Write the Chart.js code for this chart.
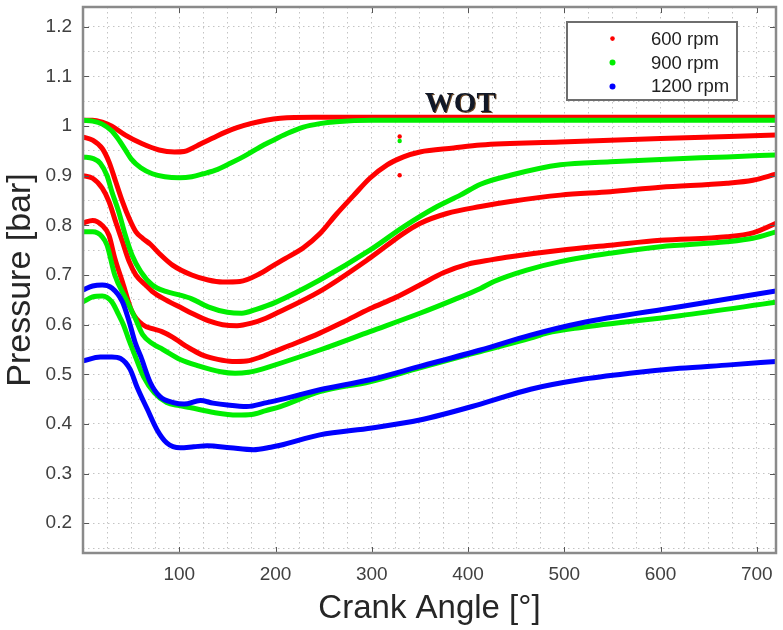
<!DOCTYPE html>
<html>
<head>
<meta charset="utf-8">
<title>Pressure vs Crank Angle</title>
<script src="https://cdn.jsdelivr.net/npm/chart.js@4.4.1/dist/chart.umd.min.js"></script>
<style>
  html, body { margin: 0; padding: 0; background: #fff; }
  #wrap { width: 783px; height: 630px; position: relative; }
</style>
</head>
<body>
<div id="wrap"><canvas id="pressureChart"></canvas></div>
<script>
// tick labels
const xTickLabels = [100, 200, 300, 400, 500, 600, 700];
const yTickLabels = [0.2, 0.3, 0.4, 0.5, 0.6, 0.7, 0.8, 0.9, 1, 1.1, 1.2];

// series: [crank angle (deg), pressure (bar)]
const rpm600_a = [[0,1.012],[10,1.012],[20,1.008],[30,1.0],[44,0.982],[61,0.965],[79,0.952],[95,0.948],[105,0.949],[113,0.955],[122,0.964],[135,0.976],[148,0.988],[160,0.997],[174,1.005],[190,1.012],[205,1.016],[240,1.018],[300,1.018],[400,1.018],[500,1.018],[600,1.018],[720,1.018]];
const rpm600_b = [[0,0.978],[10,0.972],[20,0.955],[27,0.928],[34,0.888],[41,0.848],[48,0.814],[55,0.787],[62,0.774],[70,0.762],[80,0.742],[93,0.72],[113,0.70],[130,0.69],[145,0.686],[163,0.687],[184,0.703],[195,0.716],[210,0.733],[229,0.755],[246,0.783],[263,0.822],[281,0.86],[298,0.895],[316,0.922],[333,0.938],[350,0.948],[385,0.956],[413,0.962],[496,0.968],[600,0.975],[720,0.982]];
const rpm600_c = [[0,0.90],[10,0.895],[20,0.875],[27,0.848],[34,0.807],[41,0.767],[48,0.727],[55,0.70],[65,0.68],[72,0.667],[86,0.65],[103,0.633],[113,0.623],[130,0.608],[145,0.60],[160,0.598],[175,0.603],[190,0.613],[200,0.622],[246,0.667],[298,0.734],[333,0.784],[350,0.804],[378,0.824],[413,0.838],[444,0.848],[496,0.861],[548,0.868],[600,0.877],[669,0.885],[696,0.891],[720,0.903]];
const rpm600_d = [[0,0.805],[10,0.81],[20,0.80],[27,0.78],[33,0.734],[41,0.686],[51,0.626],[62,0.60],[72,0.592],[82,0.586],[93,0.575],[103,0.562],[113,0.55],[125,0.538],[140,0.53],[155,0.526],[170,0.527],[185,0.535],[195,0.543],[220,0.562],[246,0.583],[270,0.605],[298,0.632],[325,0.655],[350,0.68],[375,0.705],[400,0.722],[425,0.731],[444,0.737],[496,0.75],[548,0.76],[600,0.77],[669,0.777],[696,0.785],[720,0.804]];
const rpm600_odd = [[329,0.979],[329,0.901]];

const rpm900_a = [[0,1.012],[10,1.01],[20,1.004],[30,0.99],[38,0.97],[44,0.952],[50,0.934],[60,0.916],[72,0.904],[85,0.898],[100,0.896],[113,0.898],[125,0.904],[140,0.913],[153,0.925],[170,0.942],[184,0.958],[195,0.969],[212,0.985],[229,0.998],[246,1.005],[263,1.009],[300,1.012],[400,1.012],[500,1.012],[600,1.012],[720,1.012]];
const rpm900_b = [[0,0.938],[10,0.935],[18,0.925],[25,0.90],[30,0.868],[37,0.828],[44,0.78],[51,0.74],[60,0.707],[72,0.68],[86,0.667],[100,0.66],[113,0.652],[130,0.636],[150,0.625],[165,0.623],[180,0.631],[200,0.645],[246,0.69],[298,0.75],[333,0.797],[368,0.838],[392,0.861],[413,0.883],[444,0.901],[496,0.922],[548,0.928],[600,0.933],[669,0.938],[720,0.942]];
const rpm900_c = [[0,0.787],[10,0.787],[20,0.777],[25,0.76],[33,0.70],[44,0.654],[54,0.614],[62,0.58],[72,0.562],[83,0.55],[101,0.53],[120,0.517],[143,0.505],[158,0.502],[172,0.504],[185,0.51],[195,0.516],[246,0.549],[298,0.586],[350,0.623],[385,0.65],[413,0.673],[427,0.687],[461,0.71],[496,0.727],[548,0.744],[600,0.757],[669,0.767],[696,0.774],[720,0.787]];
const rpm900_d = [[0,0.646],[10,0.656],[20,0.658],[30,0.646],[37,0.62],[42,0.60],[47,0.573],[53,0.543],[63,0.495],[74,0.463],[87,0.443],[100,0.437],[111,0.433],[136,0.423],[160,0.418],[175,0.419],[190,0.427],[205,0.435],[246,0.465],[298,0.485],[350,0.513],[413,0.546],[465,0.573],[482,0.583],[516,0.594],[620,0.618],[720,0.645]];
const rpm900_odd = [[329,0.97]];

const rpm1200_a = [[0,0.67],[10,0.678],[20,0.68],[30,0.674],[41,0.646],[48,0.606],[54,0.565],[60,0.536],[70,0.483],[80,0.455],[94,0.443],[105,0.44],[122,0.447],[135,0.442],[150,0.438],[170,0.435],[191,0.443],[205,0.449],[246,0.469],[298,0.489],[350,0.516],[413,0.549],[465,0.579],[516,0.603],[620,0.636],[720,0.668]];
const rpm1200_b = [[0,0.527],[18,0.535],[30,0.535],[39,0.532],[49,0.51],[56,0.475],[67,0.429],[77,0.388],[87,0.362],[101,0.352],[115,0.354],[129,0.356],[153,0.352],[177,0.348],[195,0.353],[205,0.357],[246,0.378],[300,0.392],[350,0.408],[413,0.44],[465,0.47],[516,0.489],[568,0.502],[620,0.512],[672,0.519],[720,0.526]];

const legendLabels = ["600 rpm", "900 rpm", "1200 rpm"];
const colors = ["#ff0000", "#00ee00", "#0000ff"];
const wotLabel = { text: "WOT", x: 392, y: 1.029 };

function toPoints(arr) {
  return arr.map(p => ({ x: p[0], y: p[1] }));
}

function curve(arr, color) {
  return {
    data: toPoints(arr),
    showLine: true,
    borderColor: color,
    backgroundColor: color,
    borderWidth: 5,
    pointRadius: 0,
    tension: 0.3,
    cubicInterpolationMode: "monotone",
    borderCapStyle: "round",
    borderJoinStyle: "round"
  };
}

function dots(arr, color) {
  return {
    data: toPoints(arr),
    showLine: false,
    pointRadius: 2.2,
    pointBorderWidth: 0,
    backgroundColor: color,
    borderColor: color
  };
}

// first dataset is drawn on top: blue, then green, then red
const datasets = [
  curve(rpm1200_a, colors[2]), curve(rpm1200_b, colors[2]),
  curve(rpm900_a, colors[1]), curve(rpm900_b, colors[1]), curve(rpm900_c, colors[1]), curve(rpm900_d, colors[1]),
  dots(rpm900_odd, colors[1]),
  curve(rpm600_a, colors[0]), curve(rpm600_b, colors[0]), curve(rpm600_c, colors[0]), curve(rpm600_d, colors[0]),
  dots(rpm600_odd, colors[0])
];

const decorPlugin = {
  id: "decor",
  afterDatasetsDraw(chart) {
    const { ctx, chartArea: a, scales: { x, y } } = chart;
    ctx.save();

    // inward tick marks on all four sides
    ctx.strokeStyle = "#555";
    ctx.lineWidth = 1;
    ctx.beginPath();
    xTickLabels.forEach(v => {
      const px = Math.round(x.getPixelForValue(v)) + 0.5;
      ctx.moveTo(px, a.bottom); ctx.lineTo(px, a.bottom - 6);
      ctx.moveTo(px, a.top); ctx.lineTo(px, a.top + 6);
    });
    yTickLabels.forEach(v => {
      const py = Math.round(y.getPixelForValue(v)) + 0.5;
      ctx.moveTo(a.left, py); ctx.lineTo(a.left + 6, py);
      ctx.moveTo(a.right, py); ctx.lineTo(a.right - 6, py);
    });
    ctx.stroke();

    // axes box
    ctx.strokeStyle = "#8a8a8a";
    ctx.lineWidth = 2.5;
    ctx.strokeRect(a.left, a.top, a.right - a.left, a.bottom - a.top);

    // WOT annotation
    ctx.font = "bold 29px 'Liberation Serif', 'Times New Roman', serif";
    ctx.textAlign = "center";
    ctx.textBaseline = "alphabetic";
    ctx.fillStyle = "#6b4a2a";
    ctx.fillText(wotLabel.text, x.getPixelForValue(wotLabel.x) + 1, y.getPixelForValue(wotLabel.y) + 1);
    ctx.fillStyle = "#111827";
    ctx.fillText(wotLabel.text, x.getPixelForValue(wotLabel.x), y.getPixelForValue(wotLabel.y));

    // legend box, top right inside the axes
    const bw = 170, bh = 78;
    const bx = a.right - 39 - bw, by = a.top + 15;
    ctx.fillStyle = "#fff";
    ctx.fillRect(bx, by, bw, bh);
    ctx.strokeStyle = "#6e6e6e";
    ctx.lineWidth = 2;
    ctx.strokeRect(bx, by, bw, bh);
    ctx.font = "18.5px 'Liberation Sans', Arial, sans-serif";
    ctx.textAlign = "left";
    ctx.textBaseline = "middle";
    legendLabels.forEach((label, i) => {
      const ry = by + 16.6 + i * 23.9;
      ctx.fillStyle = colors[i];
      ctx.beginPath();
      ctx.arc(bx + 45.5, ry, i === 0 ? 2.3 : 3, 0, Math.PI * 2);
      ctx.fill();
      ctx.fillStyle = "#222";
      ctx.fillText(label, bx + 84, ry + 1);
    });
    ctx.restore();
  }
};

function gerarGrafico() {
  const ctx = document.getElementById("pressureChart").getContext("2d");
  new Chart(ctx, {
    type: "scatter",
    data: { datasets: datasets },
    plugins: [decorPlugin],
    options: {
      responsive: true,
      maintainAspectRatio: false,
      animation: false,
      events: [],
      layout: { padding: { left: 0, top: 7, right: 7, bottom: 0 } },
      plugins: {
        legend: { display: false },
        tooltip: { enabled: false }
      },
      scales: {
        x: {
          type: "linear",
          min: 0,
          max: 720,
          afterBuildTicks: scale => {
            const t = [];
            for (let v = 25; v < 720; v += 25) t.push({ value: v });
            scale.ticks = t;
          },
          afterFit: scale => {
            scale.height = 77;
            scale.paddingLeft = 0;
            scale.paddingRight = 0;
          },
          ticks: {
            autoSkip: false,
            maxRotation: 0,
            padding: 10,
            color: "#404040",
            font: { size: 19, family: "'Liberation Sans', Arial, sans-serif" },
            callback: v => xTickLabels.includes(v) ? String(v) : ""
          },
          grid: { color: "#c4c4c4", lineWidth: 1, drawTicks: false },
          border: { display: false, dash: [1.5, 3.5] },
          title: {
            display: true,
            text: "Crank Angle [°]",
            color: "#262626",
            padding: { top: 0, bottom: 1 },
            font: { size: 33, family: "'Liberation Sans', Arial, sans-serif" }
          }
        },
        y: {
          type: "linear",
          min: 0.14,
          max: 1.24,
          afterBuildTicks: scale => {
            const t = [];
            for (let k = 3; k <= 24; k++) t.push({ value: Math.round(k * 5) / 100 });
            scale.ticks = t;
          },
          afterFit: scale => {
            scale.width = 83;
            scale.paddingTop = 0;
            scale.paddingBottom = 0;
          },
          ticks: {
            autoSkip: false,
            padding: 11,
            color: "#404040",
            font: { size: 19, family: "'Liberation Sans', Arial, sans-serif" },
            callback: v => {
              const r = Math.round(v * 100) / 100;
              return yTickLabels.includes(r) ? String(r) : "";
            }
          },
          grid: { color: "#c4c4c4", lineWidth: 1, drawTicks: false },
          border: { display: false, dash: [1.5, 3.5] },
          title: {
            display: true,
            text: "Pressure [bar]",
            color: "#262626",
            padding: { top: 0, bottom: 0 },
            font: { size: 34, family: "'Liberation Sans', Arial, sans-serif" }
          }
        }
      }
    }
  });
}

document.addEventListener("DOMContentLoaded", () => {
  if (document.getElementById("pressureChart")) {
    gerarGrafico();
  }
});
</script>
</body>
</html>
